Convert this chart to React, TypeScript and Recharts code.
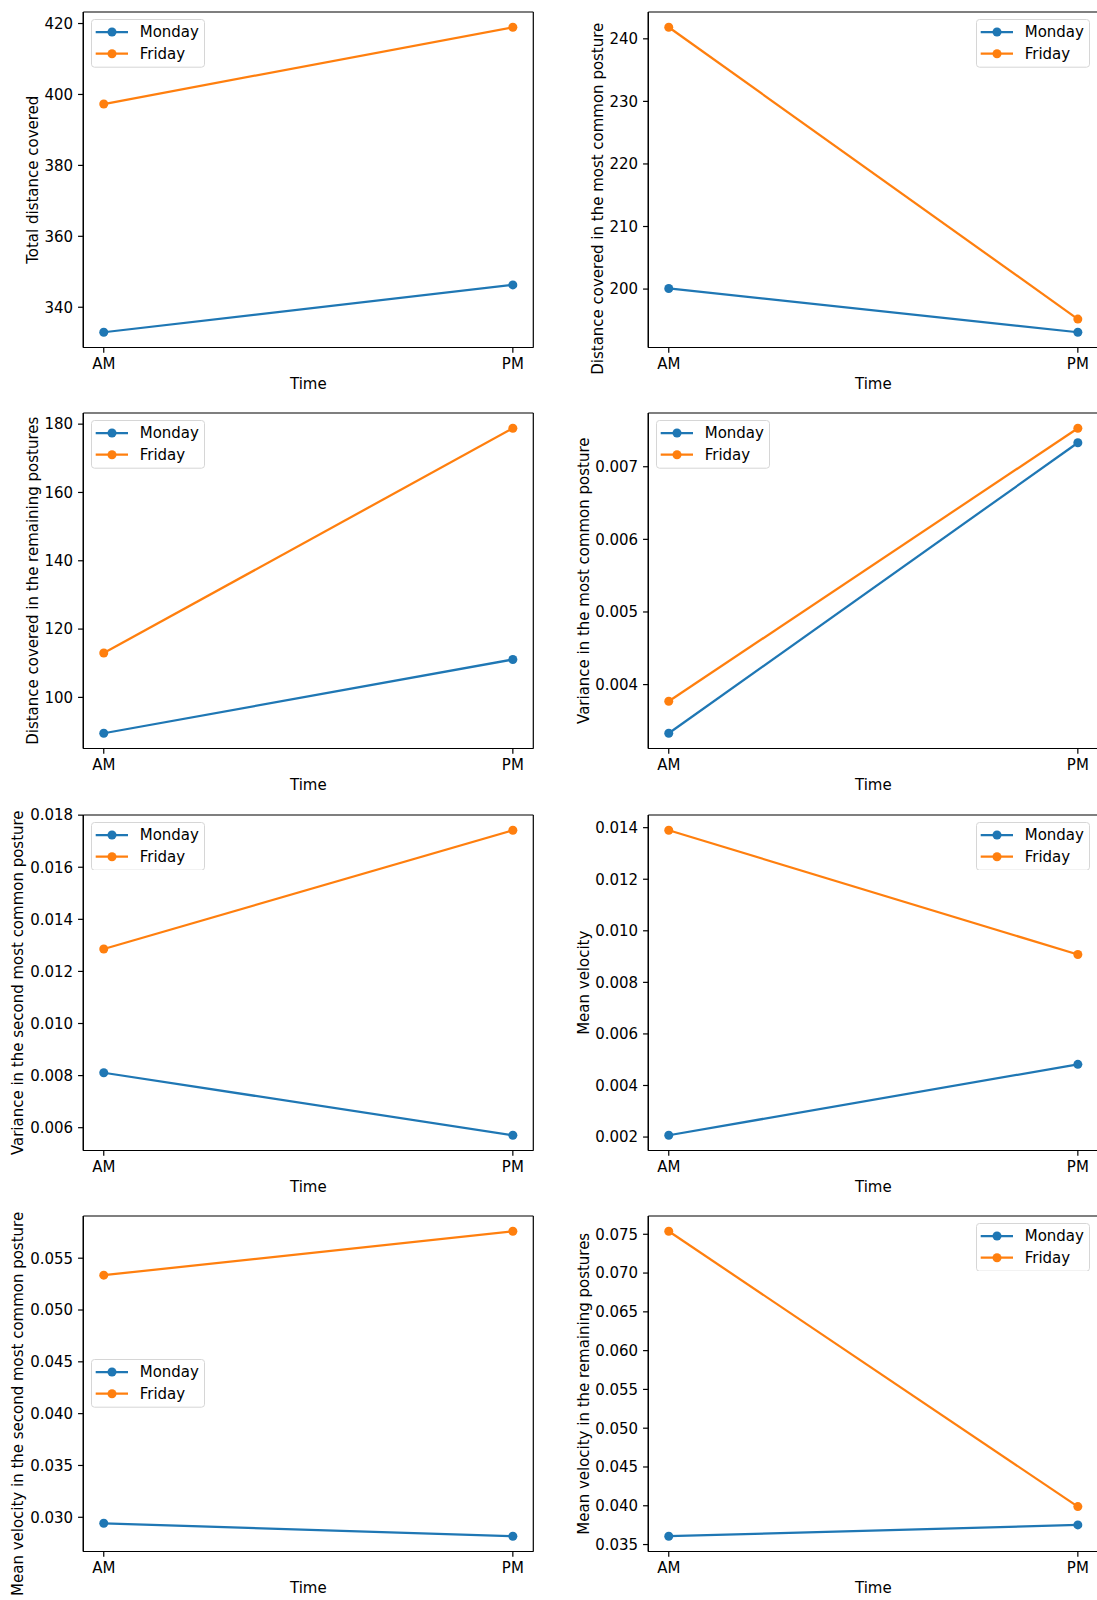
import React from 'react';
import { LineChart, Line, XAxis, YAxis, Legend, CartesianGrid } from 'recharts';

// ---------- data ----------
const times = ['AM', 'PM'];
const seriesNames = ['Monday', 'Friday'];

const totalDistanceMonday = [332.95, 346.3];
const totalDistanceFriday = [397.3, 418.95];

const distMostCommonMonday = [200.1, 193.1];
const distMostCommonFriday = [241.85, 195.2];

const distRemainingMonday = [89.5, 111.1];
const distRemainingFriday = [113.0, 178.8];

const varMostCommonMonday = [0.00333, 0.00733];
const varMostCommonFriday = [0.00377, 0.00753];

const varSecondMonday = [0.00811, 0.00571];
const varSecondFriday = [0.01286, 0.01742];

const meanVelocityMonday = [0.00207, 0.00482];
const meanVelocityFriday = [0.0139, 0.00908];

const meanVelSecondMonday = [0.02942, 0.02817];
const meanVelSecondFriday = [0.05336, 0.0576];

const meanVelRemainingMonday = [0.03607, 0.03753];
const meanVelRemainingFriday = [0.07539, 0.03989];

const ticksTotalDistance = [340, 360, 380, 400, 420];
const ticksDistMostCommon = [200, 210, 220, 230, 240];
const ticksDistRemaining = [100, 120, 140, 160, 180];
const ticksVarMostCommon = [0.004, 0.005, 0.006, 0.007];
const ticksVarSecond = [0.006, 0.008, 0.01, 0.012, 0.014, 0.016, 0.018];
const ticksMeanVelocity = [0.002, 0.004, 0.006, 0.008, 0.01, 0.012, 0.014];
const ticksMeanVelSecond = [0.03, 0.035, 0.04, 0.045, 0.05, 0.055];
const ticksMeanVelRemaining = [0.035, 0.04, 0.045, 0.05, 0.055, 0.06, 0.065, 0.07, 0.075];

const xLabel = 'Time';

// ---------- style ----------
const FONT = '"DejaVu Sans", sans-serif';
const BLUE = '#1f77b4';
const ORANGE = '#ff7f0e';
const PLOT_W = 450;
const PLOT_H = 335.5;
const TOP_PAD = 12;
const XAXIS_H = 52;
const X_PAD = (PLOT_W * 0.05) / 1.1;
const COLS = [
  { chartX: 0, yAxisW: 83.3, marginRight: 14 },
  { chartX: 548, yAxisW: 100.3, marginRight: 10 },
];
const ROW_TOPS = [12.3, 413.4, 814.5, 1215.6];
const LEG_W = 114;
const LEG_H = 48.7;
const seriesColors = [BLUE, ORANGE];

type LegendPos = 'ul' | 'ur' | 'cl';
type Panel = {
  label: string;
  monday: number[];
  friday: number[];
  ticks: number[];
  decimals: number;
  legend: LegendPos;
  ylabelX: number; // page x of rotated label centre
  ylabelTop?: number; // page y of label top (when not centred)
};

const panels: Panel[] = [
  { label: 'Total distance covered', monday: totalDistanceMonday, friday: totalDistanceFriday, ticks: ticksTotalDistance, decimals: 0, legend: 'ul', ylabelX: 33 },
  { label: 'Distance covered in the most common posture', monday: distMostCommonMonday, friday: distMostCommonFriday, ticks: ticksDistMostCommon, decimals: 0, legend: 'ur', ylabelX: 598, ylabelTop: 23 },
  { label: 'Distance covered in the remaining postures', monday: distRemainingMonday, friday: distRemainingFriday, ticks: ticksDistRemaining, decimals: 0, legend: 'ul', ylabelX: 33 },
  { label: 'Variance in the most common posture', monday: varMostCommonMonday, friday: varMostCommonFriday, ticks: ticksVarMostCommon, decimals: 3, legend: 'ul', ylabelX: 583.6 },
  { label: 'Variance in the second most common posture', monday: varSecondMonday, friday: varSecondFriday, ticks: ticksVarSecond, decimals: 3, legend: 'ul', ylabelX: 18.4 },
  { label: 'Mean velocity', monday: meanVelocityMonday, friday: meanVelocityFriday, ticks: ticksMeanVelocity, decimals: 3, legend: 'ur', ylabelX: 583.6 },
  { label: 'Mean velocity in the second most common posture', monday: meanVelSecondMonday, friday: meanVelSecondFriday, ticks: ticksMeanVelSecond, decimals: 3, legend: 'cl', ylabelX: 18.4, ylabelTop: 1211.5 },
  { label: 'Mean velocity in the remaining postures', monday: meanVelRemainingMonday, friday: meanVelRemainingFriday, ticks: ticksMeanVelRemaining, decimals: 3, legend: 'ur', ylabelX: 583.6 },
];

const LegendBox = (props: any) => {
  const payload = [...(props.payload || [])].sort(
    (a: any, b: any) => seriesNames.indexOf(a.value) - seriesNames.indexOf(b.value)
  );
  return (
    <svg width={LEG_W} height={LEG_H} style={{ display: 'block' }}>
      <rect x={0.5} y={0.5} width={LEG_W - 1} height={LEG_H - 1} rx={3} ry={3}
        fill="#ffffff" fillOpacity={0.8} stroke="#d6d6d6" strokeWidth={1} />
      {payload.map((p: any, i: number) => {
        const cy = 13 + i * 21.7;
        const color = seriesColors[seriesNames.indexOf(p.value)] || p.color;
        return (
          <g key={i}>
            <line x1={4.7} x2={37} y1={cy} y2={cy} stroke={color} strokeWidth={2.25} />
            <circle cx={21} cy={cy} r={4.5} fill={color} />
            <text x={48.7} y={cy} dominantBaseline="central" fontSize={15} fontFamily={FONT} fill="#000">
              {p.value}
            </text>
          </g>
        );
      })}
    </svg>
  );
};

const YLabel = (props: any) => {
  const vb = props.viewBox || {};
  const cx = props.cx;
  if (props.top != null) {
    const ty = props.top;
    return (
      <text x={cx} y={ty} transform={`rotate(-90, ${cx}, ${ty})`} textAnchor="end"
        dominantBaseline="central" fontSize={15} fontFamily={FONT} fill="#000">
        {props.text}
      </text>
    );
  }
  const cy = (vb.y ?? TOP_PAD) + (vb.height ?? PLOT_H) / 2;
  return (
    <text x={cx} y={cy} transform={`rotate(-90, ${cx}, ${cy})`} textAnchor="middle"
      dominantBaseline="central" fontSize={15} fontFamily={FONT} fill="#000">
      {props.text}
    </text>
  );
};

const XLabel = (props: any) => {
  const vb = props.viewBox || {};
  const cx = (vb.x ?? 0) + (vb.width ?? PLOT_W) / 2;
  const cy = (vb.y ?? 0) + 37;
  return (
    <text x={cx} y={cy} textAnchor="middle" dominantBaseline="central"
      fontSize={15} fontFamily={FONT} fill="#000">
      {props.text}
    </text>
  );
};

const PanelChart = ({ panel, index }: { panel: Panel; index: number }) => {
  const col = COLS[index % 2];
  const rowTop = ROW_TOPS[Math.floor(index / 2)];
  const chartTop = rowTop - TOP_PAD;
  const data = times.map((t, i) => ({ time: t, monday: panel.monday[i], friday: panel.friday[i] }));
  const all = [...panel.monday, ...panel.friday];
  const mn = Math.min(...all);
  const mx = Math.max(...all);
  const m = (mx - mn) * 0.05;
  const domain: [number, number] = [mn - m, mx + m];
  const width = col.yAxisW + PLOT_W + col.marginRight;
  const height = TOP_PAD + PLOT_H + XAXIS_H;

  let legLeft = col.yAxisW + 8;
  let legTop = TOP_PAD + 7;
  if (panel.legend === 'ur') legLeft = col.yAxisW + PLOT_W - 8 - LEG_W;
  if (panel.legend === 'cl') legTop = TOP_PAD + PLOT_H / 2 - LEG_H / 2;

  const axisLine = { stroke: '#000', strokeWidth: 1.2 };
  const tickStyle = { fill: '#000', fontSize: 15, fontFamily: FONT };

  return (
    <div style={{ position: 'absolute', left: col.chartX, top: chartTop, width, height }}>
      <LineChart width={width} height={height} data={data}
        margin={{ top: TOP_PAD, right: col.marginRight, bottom: 0, left: 0 }}>
        <CartesianGrid stroke="#000" strokeWidth={1.2} fill="none"
          horizontalPoints={[TOP_PAD, TOP_PAD + PLOT_H]}
          verticalPoints={[col.yAxisW, col.yAxisW + PLOT_W]} />
        <XAxis dataKey="time" height={XAXIS_H} padding={{ left: X_PAD, right: X_PAD }}
          interval={0} tick={tickStyle} tickSize={5.25} tickMargin={6}
          tickLine={axisLine} axisLine={axisLine}
          label={<XLabel text={xLabel} />} />
        <YAxis type="number" domain={domain} ticks={panel.ticks} width={col.yAxisW}
          allowDataOverflow interval={0}
          tickFormatter={(v: number) => v.toFixed(panel.decimals)}
          tick={tickStyle} tickSize={5.25} tickMargin={5}
          tickLine={axisLine} axisLine={axisLine}
          label={<YLabel text={panel.label} cx={panel.ylabelX - col.chartX}
            top={panel.ylabelTop != null ? panel.ylabelTop - chartTop : undefined} />} />
        <Legend layout="vertical" align="center" verticalAlign="middle"
          content={<LegendBox />}
          wrapperStyle={{ left: legLeft, top: legTop, width: LEG_W, height: LEG_H, margin: 0, padding: 0 }} />
        <Line type="linear" dataKey="monday" name={seriesNames[0]} stroke={BLUE} strokeWidth={2.25}
          dot={{ r: 4.5, fill: BLUE, stroke: 'none' }} activeDot={false} isAnimationActive={false} />
        <Line type="linear" dataKey="friday" name={seriesNames[1]} stroke={ORANGE} strokeWidth={2.25}
          dot={{ r: 4.5, fill: ORANGE, stroke: 'none' }} activeDot={false} isAnimationActive={false} />
      </LineChart>
    </div>
  );
};

export default function App() {
  return (
    <div style={{ position: 'absolute', left: 0, top: 0, width: 1097, height: 1600, overflow: 'hidden', background: '#fff' }}>
      {panels.map((p, i) => (
        <PanelChart key={i} panel={p} index={i} />
      ))}
    </div>
  );
}
